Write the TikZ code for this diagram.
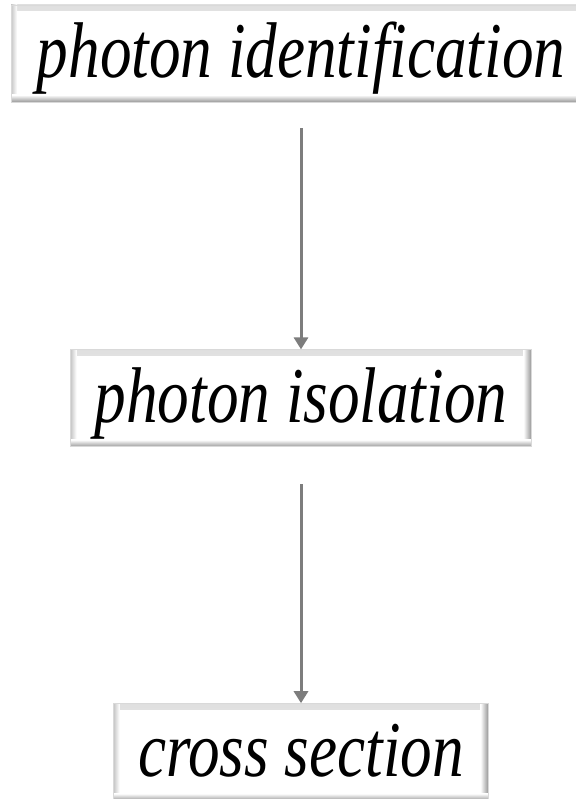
\documentclass[tikz,border=0pt]{standalone}
\usepackage{fontspec}
\setmainfont{Liberation Serif}[FakeStretch=0.8]
\usepackage{xcolor}
\usetikzlibrary{arrows.meta, positioning}

\definecolor{arrowgray}{RGB}{125,125,125}

\begin{document}
\begin{tikzpicture}[
    x=1pt, y=1pt,
    node distance=247pt,
    stage/.style={draw=gray!30, line width=0.8pt, fill=white, minimum height=97pt,
        text height=58pt, text depth=10pt, inner xsep=0pt, align=center,
        font=\fontsize{79pt}{90pt}\selectfont\itshape,
        path picture={
            \shade[top color=gray!25, bottom color=white]
                (path picture bounding box.north west) rectangle ([yshift=-6pt]path picture bounding box.north east);
            \shade[left color=gray!45, right color=white]
                (path picture bounding box.north west) rectangle ([xshift=6pt]path picture bounding box.south west);
            \shade[left color=white, right color=gray!85]
                ([xshift=-8pt]path picture bounding box.north east) rectangle (path picture bounding box.south east);
            \shade[top color=white, bottom color=gray!80]
                ([yshift=7pt]path picture bounding box.south west) rectangle (path picture bounding box.south east);
        }},
    arrow/.style={-{Triangle[length=12pt, width=14pt]}, draw=arrowgray, fill=arrowgray, line width=3pt}
]
    \useasboundingbox (0,0) rectangle (575,-799);
    \node[stage, minimum width=580pt] (ident) at (301,-53.5) {photon identification};
    \node[stage, minimum width=461pt, below=of ident] (iso) {photon isolation};
    \node[stage, minimum width=375pt, below=256pt of iso] (xsec) {cross section};

    \draw[arrow, shorten <=26pt] (ident) -- (iso);
    \draw[arrow, shorten <=37pt] (iso) -- (xsec);
\end{tikzpicture}
\end{document}
